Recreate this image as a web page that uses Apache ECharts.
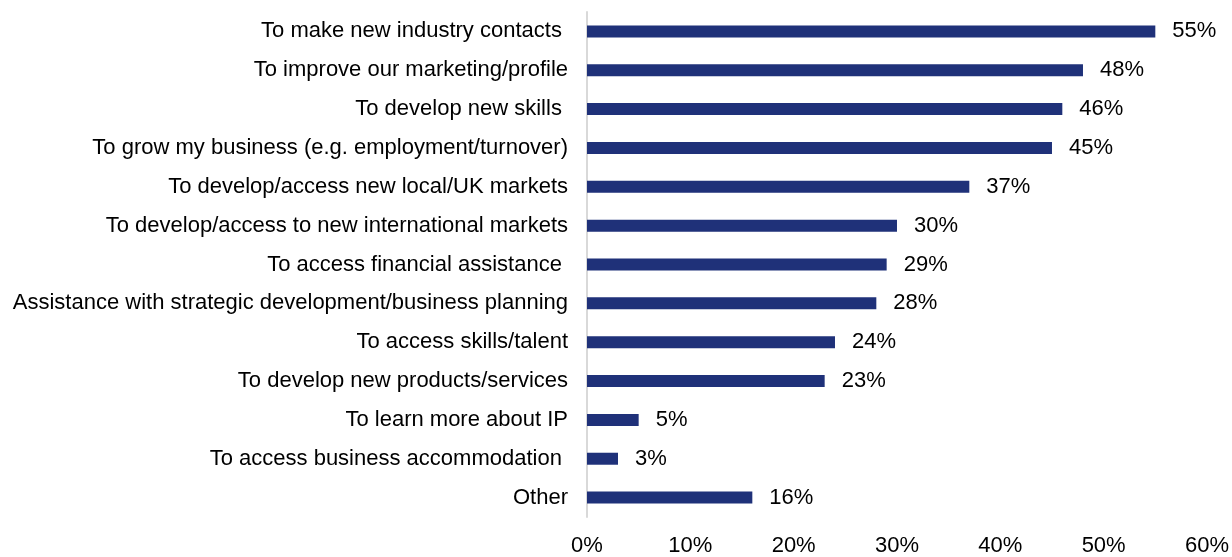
<!DOCTYPE html>
<html>
<head>
<meta charset="utf-8">
<style>
  html, body { margin: 0; padding: 0; background: #ffffff; }
  #chart { width: 1232px; height: 557px; }
</style>
<script src="https://cdn.jsdelivr.net/npm/echarts@6/dist/echarts.min.js"></script>
</head>
<body>
<div id="chart"></div>
<script>
// Reasons for taking part, share of respondents (%)
const categories = [
  'To make new industry contacts ',
  'To improve our marketing/profile',
  'To develop new skills ',
  'To grow my business (e.g. employment/turnover)',
  'To develop/access new local/UK markets',
  'To develop/access to new international markets',
  'To access financial assistance ',
  'Assistance with strategic development/business planning',
  'To access skills/talent',
  'To develop new products/services',
  'To learn more about IP',
  'To access business accommodation ',
  'Other'
];
const shares = [55, 48, 46, 45, 37, 30, 29, 28, 24, 23, 5, 3, 16];
const xTicks = { min: 0, max: 60, step: 10 };

const chart = echarts.init(document.getElementById('chart'));
const font = 'Arial, "Liberation Sans", Helvetica, sans-serif';

chart.setOption({
  animation: false,
  backgroundColor: '#ffffff',
  grid: { left: 587, right: 24, top: 12, bottom: 33.5, containLabel: false },
  xAxis: {
    type: 'value',
    min: xTicks.min,
    max: xTicks.max,
    interval: xTicks.step,
    axisLine: { show: false },
    axisTick: { show: false },
    splitLine: { show: false },
    axisLabel: {
      formatter: '{value}%',
      color: '#000000',
      fontFamily: font,
      fontSize: 22,
      margin: 18
    }
  },
  yAxis: {
    type: 'category',
    data: categories,
    inverse: true,
    axisLine: { show: true, lineStyle: { color: '#d9d9d9', width: 2 } },
    axisTick: { show: false },
    splitLine: { show: false },
    axisLabel: {
      color: '#000000',
      fontFamily: font,
      fontSize: 22,
      margin: 19
    }
  },
  series: [{
    type: 'bar',
    data: shares,
    barWidth: 12,
    itemStyle: { color: '#1f3179' },
    label: {
      show: true,
      position: 'right',
      distance: 17,
      formatter: '{c}%',
      color: '#000000',
      fontFamily: font,
      fontSize: 22
    }
  }]
});
</script>
</body>
</html>
